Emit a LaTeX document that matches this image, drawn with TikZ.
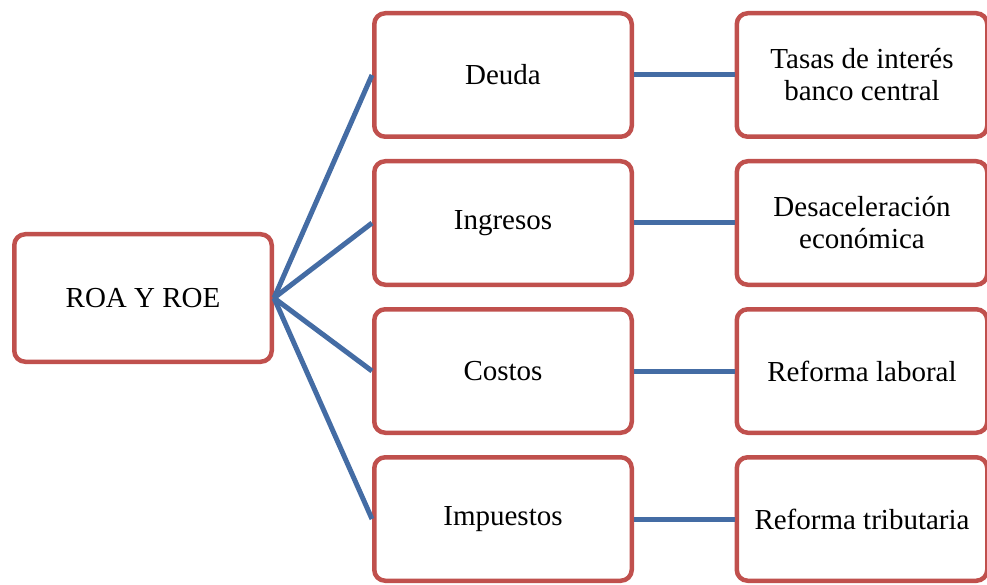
\documentclass[tikz,border=0pt]{standalone}
\usepackage{fontspec}
\setmainfont{Liberation Serif}
\definecolor{boxred}{RGB}{192,80,77}
\definecolor{lineblue}{RGB}{68,108,164}
\tikzset{
  caja/.style={draw=boxred, line width=4.5pt, rounded corners=11pt, fill=white,
    minimum width=257.5pt, minimum height=123.5pt, align=center,
    font=\fontsize{29}{32}\selectfont},
  cajader/.style={caja, minimum width=250.5pt},
  enlace/.style={draw=lineblue, line width=5pt}
}

\begin{document}
\begin{tikzpicture}[x=1pt,y=-1pt]
    \useasboundingbox (0,0) rectangle (987,585);
    \node [caja, minimum height=127.5pt] (roa) at (143,298) {ROA Y ROE};
    \node [caja] (deuda) at (503,75) {Deuda};
    \node [caja] (ingresos) at (503,223) {Ingresos};
    \node [caja] (costos) at (503,371) {Costos};
    \node [caja] (impuestos) at (503,519) {Impuestos};
    \node [cajader] (tasas) at (862,75) {Tasas de interés\\banco central};
    \node [cajader] (desac) at (862,223) {Desaceleración\\económica};
    \node [cajader] (laboral) at (862,371) {Reforma laboral};
    \node [cajader] (tributaria) at (862,519) {Reforma tributaria};
    \draw [enlace] (roa.east)--(deuda.west);
    \draw [enlace] (roa.east)--(ingresos.west);
    \draw [enlace] (roa.east)--(costos.west);
    \draw [enlace] (roa.east)--(impuestos.west);
    \draw [enlace] (deuda)--(tasas);
    \draw [enlace] (ingresos)--(desac);
    \draw [enlace] (costos)--(laboral);
    \draw [enlace] (impuestos)--(tributaria);
\end{tikzpicture}
\end{document}
